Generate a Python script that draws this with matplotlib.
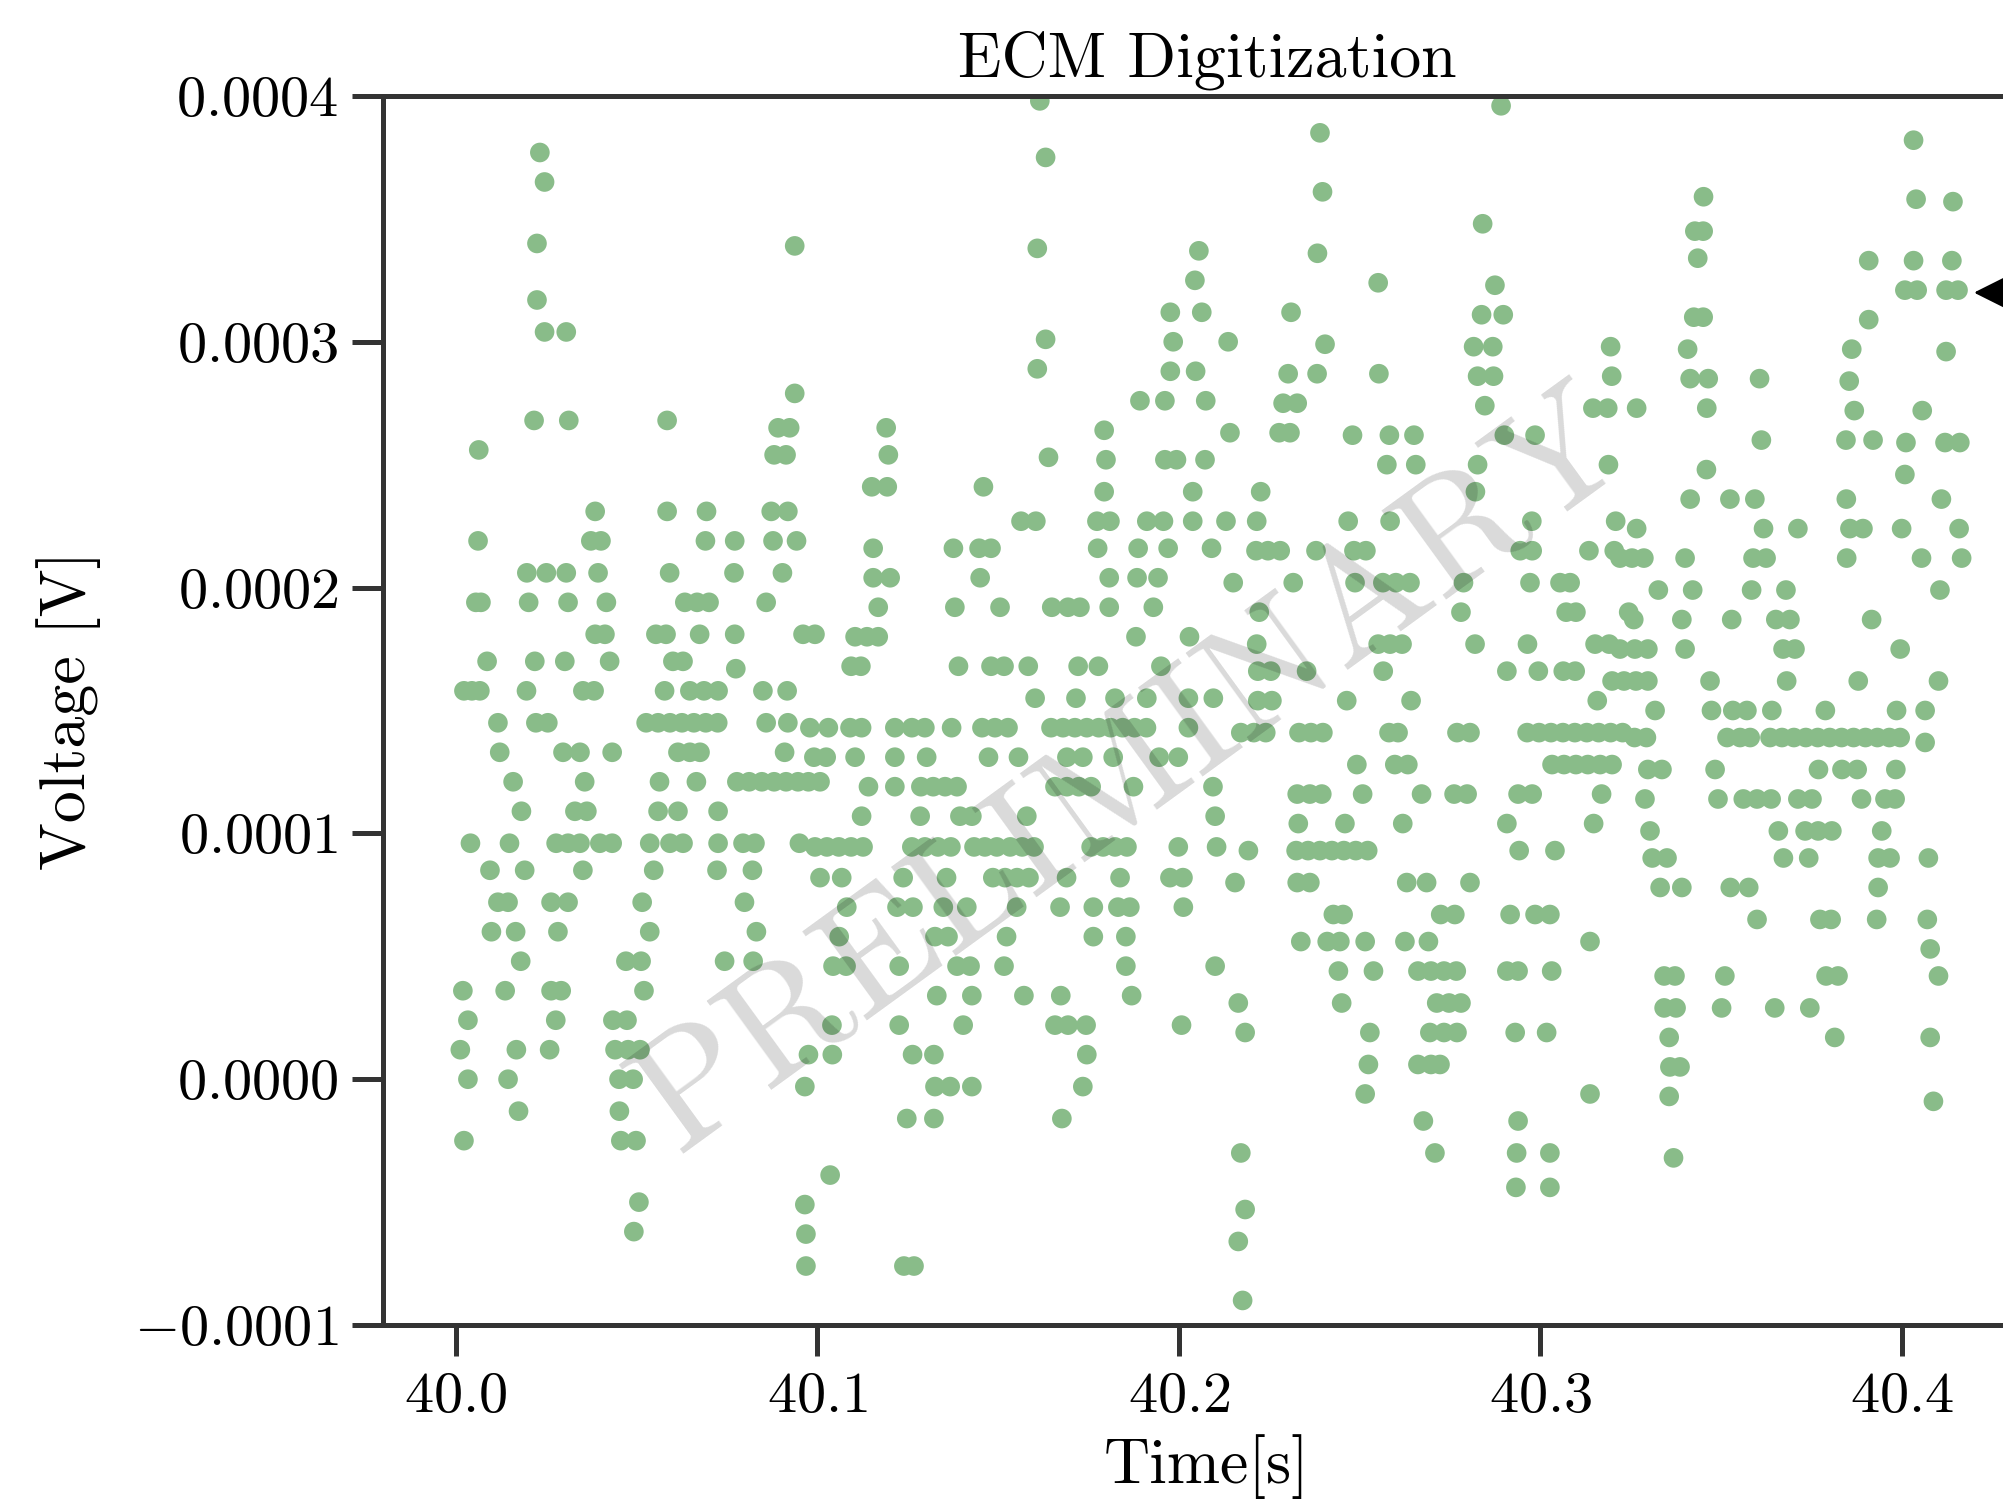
import matplotlib
matplotlib.use('Agg')
import matplotlib.pyplot as plt
from matplotlib.ticker import FuncFormatter

# digitized ECM samples
# each row: (voltage level in units of 1e-4 V, sample times in s at that level)
rows_a = [
    (3.77, [40.0232]),
    (3.65, [40.0245]),
    (3.40, [40.0224]),
    (3.39, [40.0937]),
    (3.17, [40.0224]),
    (3.04, [40.0245, 40.0305]),
    (2.79, [40.0937]),
    (2.68, [40.0216, 40.0312, 40.0584]),
    (2.65, [40.0891, 40.0923]),
    (2.56, [40.0063]),
    (2.54, [40.0880, 40.0913]),
    (2.31, [40.0385, 40.0584, 40.0693, 40.0872, 40.0918]),
    (2.19, [40.0061, 40.0373, 40.0401, 40.0690, 40.0771, 40.0877, 40.0942]),
    (2.06, [40.0196, 40.0250, 40.0305, 40.0393, 40.0591, 40.0769, 40.0903]),
    (1.94, [40.0055, 40.0069, 40.0201, 40.0310, 40.0416, 40.0633, 40.0667, 40.0700, 40.0858]),
    (1.81, [40.0385, 40.0412, 40.0553, 40.0581, 40.0674, 40.0771, 40.0960, 40.0993]),
    (1.70, [40.0086, 40.0218, 40.0301, 40.0425, 40.0600, 40.0628]),
    (1.67, [40.0774]),
    (1.58, [40.0022, 40.0044, 40.0066, 40.0195, 40.0351, 40.0382, 40.0577, 40.0647,
            40.0686, 40.0725, 40.0849, 40.0916]),
    (1.45, [40.0116, 40.0221, 40.0254, 40.0526, 40.0559, 40.0592, 40.0625, 40.0658,
            40.0691, 40.0724, 40.0858, 40.0918]),
    (1.33, [40.0121, 40.0296, 40.0343, 40.0432, 40.0614, 40.0647, 40.0675, 40.0909]),
    (1.21, [40.0158, 40.0356, 40.0563, 40.0665, 40.0777, 40.0811, 40.0846, 40.0880,
            40.0913, 40.0946, 40.0975, 40.1007]),
    (1.09, [40.0181, 40.0329, 40.0362, 40.0559, 40.0614, 40.0725]),
    (0.96, [40.0040, 40.0148, 40.0277, 40.0310, 40.0343, 40.0398, 40.0432, 40.0536,
            40.0592, 40.0628, 40.0725, 40.0794, 40.0827, 40.0950]),
    (0.85, [40.0094, 40.0190, 40.0351, 40.0547, 40.0722, 40.0820]),
    (0.72, [40.0116, 40.0144, 40.0263, 40.0310, 40.0515, 40.0798]),
    (0.60, [40.0098, 40.0165, 40.0282, 40.0536, 40.0831]),
    (0.48, [40.0179, 40.0470, 40.0512, 40.0743, 40.0822]),
    (0.36, [40.0019, 40.0136, 40.0263, 40.0291, 40.0520]),
    (0.24, [40.0033, 40.0276, 40.0434, 40.0473]),
    (0.12, [40.0012, 40.0167, 40.0259, 40.0440, 40.0476, 40.0509]),
    (0.00, [40.0033, 40.0144, 40.0451, 40.0490]),
    (-0.13, [40.0173, 40.0452]),
    (-0.25, [40.0022, 40.0456, 40.0498]),
    (-0.50, [40.0506]),
    (-0.62, [40.0492]),
]

rows_b = [
    (3.98, [40.1615]),
    (3.75, [40.1631]),
    (3.38, [40.1608]),
    (3.37, [40.2055]),
    (3.25, [40.2044]),
    (3.12, [40.1976, 40.2063]),
    (3.01, [40.1631]),
    (3.00, [40.1984]),
    (2.89, [40.1608]),
    (2.88, [40.1976, 40.2046]),
    (2.76, [40.1892, 40.1961, 40.2074]),
    (2.65, [40.1190]),
    (2.64, [40.1793]),
    (2.54, [40.1196]),
    (2.53, [40.1639]),
    (2.52, [40.1798, 40.1961, 40.1993, 40.2072]),
    (2.41, [40.1150, 40.1193, 40.1459]),
    (2.39, [40.1793, 40.2038]),
    (2.27, [40.1563, 40.1604, 40.1773, 40.1809, 40.1911, 40.1957, 40.2038]),
    (2.16, [40.1154, 40.1376, 40.1447, 40.1480, 40.1775, 40.1887, 40.1970, 40.2090]),
    (2.04, [40.1154, 40.1201, 40.1450, 40.1807, 40.1884, 40.1942]),
    (1.92, [40.1168, 40.1380, 40.1505, 40.1648, 40.1693, 40.1726, 40.1807, 40.1929]),
    (1.80, [40.1104, 40.1137, 40.1168, 40.1881, 40.2029]),
    (1.68, [40.1093, 40.1120, 40.1390, 40.1480, 40.1516, 40.1583, 40.1721, 40.1777, 40.1950]),
    (1.55, [40.1602, 40.1715, 40.1823, 40.1911, 40.2026, 40.2095]),
    (1.43, [40.0979, 40.1030, 40.1090, 40.1122, 40.1214, 40.1261, 40.1297, 40.1371,
            40.1455, 40.1491, 40.1527, 40.1646, 40.1679, 40.1712, 40.1745, 40.1778,
            40.1811, 40.1844, 40.1877, 40.1910, 40.2026]),
    (1.31, [40.0990, 40.1024, 40.1104, 40.1214, 40.1302, 40.1473, 40.1556, 40.1690,
            40.1734, 40.1818, 40.1945, 40.1998]),
    (1.19, [40.1141, 40.1214, 40.1286, 40.1320, 40.1353, 40.1386, 40.1657, 40.1690,
            40.1723, 40.1757, 40.1874, 40.2094]),
    (1.07, [40.1122, 40.1284, 40.1394, 40.1427, 40.1579, 40.2100]),
    (0.945, [40.0993, 40.1026, 40.1059, 40.1093, 40.1126, 40.1261, 40.1297, 40.1333,
             40.1369, 40.1433, 40.1463, 40.1496, 40.1533, 40.1566, 40.1599, 40.1757,
             40.1790, 40.1823, 40.1856, 40.1998, 40.2104]),
    (0.82, [40.1007, 40.1067, 40.1237, 40.1357, 40.1485, 40.1519, 40.1552, 40.1585,
            40.1689, 40.1837, 40.1975, 40.2011]),
    (0.70, [40.1081, 40.1220, 40.1264, 40.1348, 40.1413, 40.1551, 40.1671, 40.1763,
            40.1831, 40.1864, 40.2012]),
    (0.58, [40.1060, 40.1325, 40.1361, 40.1523, 40.1763, 40.1853]),
    (0.46, [40.1043, 40.1079, 40.1226, 40.1386, 40.1422, 40.1516, 40.1853, 40.2100]),
    (0.34, [40.1330, 40.1427, 40.1571, 40.1673, 40.1869]),
    (0.22, [40.1040, 40.1226, 40.1403, 40.1657, 40.1693, 40.1743, 40.2007]),
    (0.10, [40.0975, 40.1041, 40.1263, 40.1322, 40.1745]),
    (-0.03, [40.0965, 40.1325, 40.1367, 40.1427, 40.1734]),
    (-0.16, [40.1247, 40.1322, 40.1676]),
    (-0.39, [40.1035]),
    (-0.51, [40.0965]),
    (-0.63, [40.0968]),
    (-0.76, [40.0968, 40.1239, 40.1267]),
]

rows_c = [
    (3.96, [40.2891]),
    (3.85, [40.2390]),
    (3.61, [40.2397]),
    (3.48, [40.2840]),
    (3.36, [40.2383]),
    (3.24, [40.2551]),
    (3.23, [40.2874]),
    (3.12, [40.2310]),
    (3.11, [40.2837, 40.2897]),
    (3.00, [40.2136]),
    (2.99, [40.2404]),
    (2.98, [40.2815, 40.2868, 40.3194]),
    (2.87, [40.2302, 40.2382, 40.2553]),
    (2.86, [40.2826, 40.2870, 40.3197]),
    (2.75, [40.2288, 40.2327]),
    (2.74, [40.2846]),
    (2.73, [40.3145, 40.3186]),
    (2.63, [40.2141, 40.2277, 40.2307]),
    (2.62, [40.2480, 40.2582, 40.2650, 40.2900, 40.2985]),
    (2.50, [40.2575, 40.2655, 40.2826, 40.3188]),
    (2.39, [40.2226, 40.2820]),
    (2.27, [40.2130, 40.2215, 40.2468, 40.2584, 40.2976, 40.3208]),
    (2.15, [40.2213, 40.2246, 40.2280, 40.2379, 40.2484, 40.2517, 40.2944, 40.2977,
            40.3134, 40.3204]),
    (2.02, [40.2150, 40.2316, 40.2487, 40.2564, 40.2600, 40.2639, 40.2787, 40.2971,
            40.3054, 40.3082]),
    (1.90, [40.2222, 40.2780, 40.3071, 40.3098, 40.3244]),
    (1.77, [40.2215, 40.2551, 40.2584, 40.2617, 40.2819, 40.2964, 40.3151, 40.3190]),
    (1.66, [40.2218, 40.2254, 40.2353, 40.2565, 40.2907, 40.2994, 40.3063, 40.3096]),
    (1.54, [40.2218, 40.2257, 40.2464, 40.2642, 40.3157]),
    (1.41, [40.2171, 40.2207, 40.2240, 40.2332, 40.2365, 40.2398, 40.2581, 40.2606,
            40.2769, 40.2805, 40.2963, 40.2996, 40.3029, 40.3062, 40.3095, 40.3128,
            40.3161, 40.3194, 40.3227]),
    (1.28, [40.2492, 40.2597, 40.2633, 40.3032, 40.3065, 40.3098, 40.3131, 40.3165, 40.3198]),
    (1.16, [40.2327, 40.2362, 40.2395, 40.2508, 40.2671, 40.2761, 40.2797, 40.2938,
            40.2977, 40.3169]),
    (1.04, [40.2330, 40.2459, 40.2619, 40.2907, 40.3147]),
    (0.93, [40.2192, 40.2324, 40.2357, 40.2390, 40.2423, 40.2456, 40.2489, 40.2522,
            40.2941, 40.3040]),
    (0.80, [40.2155, 40.2327, 40.2362, 40.2630, 40.2685, 40.2805]),
    (0.67, [40.2427, 40.2454, 40.2724, 40.2763, 40.2916, 40.2985, 40.3026]),
    (0.56, [40.2337, 40.2410, 40.2445, 40.2515, 40.2625, 40.2690, 40.3137]),
    (0.44, [40.2441, 40.2538, 40.2661, 40.2697, 40.2733, 40.2767, 40.2907, 40.2938, 40.3031]),
    (0.31, [40.2164, 40.2450, 40.2713, 40.2747, 40.2780]),
    (0.19, [40.2183, 40.2528, 40.2694, 40.2733, 40.2769, 40.2930, 40.3017]),
    (0.06, [40.2524, 40.2661, 40.2697, 40.2722]),
    (-0.06, [40.2515, 40.3137]),
    (-0.17, [40.2676, 40.2938]),
    (-0.30, [40.2171, 40.2708, 40.2934, 40.3026]),
    (-0.44, [40.2932, 40.3026]),
    (-0.53, [40.2183]),
    (-0.66, [40.2164]),
    (-0.90, [40.2176]),
]

rows_d = [
    (3.82, [40.4032]),
    (3.59, [40.3451]),
    (3.58, [40.4039]),
    (3.57, [40.4141]),
    (3.45, [40.3427, 40.3450]),
    (3.34, [40.3435]),
    (3.33, [40.3908, 40.4032, 40.4138]),
    (3.21, [40.4008, 40.4042, 40.4122, 40.4155]),
    (3.10, [40.3424, 40.3450]),
    (3.09, [40.3908]),
    (2.97, [40.3407, 40.3861]),
    (2.96, [40.4122]),
    (2.85, [40.3414, 40.3464, 40.3606]),
    (2.84, [40.3854]),
    (2.73, [40.3266, 40.3460]),
    (2.72, [40.3868, 40.4056]),
    (2.60, [40.3611, 40.3845, 40.3920]),
    (2.59, [40.4011, 40.4119, 40.4160]),
    (2.48, [40.3459]),
    (2.46, [40.4008]),
    (2.36, [40.3414, 40.3524, 40.3593, 40.3846, 40.4109]),
    (2.24, [40.3266, 40.3617, 40.3712, 40.3856, 40.3892, 40.3999, 40.4158]),
    (2.12, [40.3220, 40.3253, 40.3286, 40.3400, 40.3588, 40.3624, 40.3847, 40.4054, 40.4165]),
    (1.99, [40.3326, 40.3421, 40.3584, 40.3679, 40.4105]),
    (1.87, [40.3258, 40.3391, 40.3529, 40.3651, 40.3690, 40.3916]),
    (1.75, [40.3220, 40.3261, 40.3297, 40.3400, 40.3671, 40.3704, 40.3995]),
    (1.62, [40.3198, 40.3231, 40.3264, 40.3297, 40.3469, 40.3681, 40.3879, 40.4101]),
    (1.50, [40.3317, 40.3473, 40.3532, 40.3571, 40.3640, 40.3788, 40.3985, 40.4064]),
    (1.39, [40.3260, 40.3293, 40.3516, 40.3552, 40.3580, 40.3635, 40.3668, 40.3701,
            40.3734, 40.3767, 40.3800, 40.3833, 40.3866, 40.3899, 40.3932, 40.3965, 40.3995]),
    (1.37, [40.4064]),
    (1.26, [40.3297, 40.3336, 40.3483, 40.3769, 40.3834, 40.3876, 40.3983]),
    (1.14, [40.3289, 40.3491, 40.3561, 40.3599, 40.3638, 40.3712, 40.3751, 40.3888,
            40.3953, 40.3981]),
    (1.01, [40.3303, 40.3658, 40.3732, 40.3768, 40.3806, 40.3944]),
    (0.90, [40.3309, 40.3350, 40.3672, 40.3742, 40.3934, 40.3967, 40.4073]),
    (0.78, [40.3331, 40.3391, 40.3525, 40.3576, 40.3934]),
    (0.65, [40.3599, 40.3773, 40.3804, 40.3930, 40.4070]),
    (0.53, [40.4078]),
    (0.42, [40.3342, 40.3372, 40.3510, 40.3790, 40.3823, 40.4101]),
    (0.29, [40.3342, 40.3375, 40.3501, 40.3648, 40.3745]),
    (0.17, [40.3356, 40.3814, 40.4078]),
    (0.05, [40.3358, 40.3386]),
    (-0.07, [40.3356]),
    (-0.09, [40.4087]),
    (-0.32, [40.3368]),
]

x_ticks = [40.0, 40.1, 40.2, 40.3, 40.4]
y_ticks = [-0.0001, 0.0, 0.0001, 0.0002, 0.0003, 0.0004]
arrow_point = (40.4199, 3.20e-4)   # marker arrow at the right edge

# flatten rows into time / voltage lists
time_s, volt = [], []
for rows in (rows_a, rows_b, rows_c, rows_d):
    for level, times in rows:
        time_s += times
        volt += [level * 1e-4] * len(times)

plt.rcParams['font.family'] = 'serif'
plt.rcParams['font.serif'] = ['cmr10']
plt.rcParams['mathtext.fontset'] = 'cm'
plt.rcParams['axes.unicode_minus'] = False

fig = plt.figure(figsize=(10.015, 7.52), dpi=200, facecolor='white')
# right part of the axes falls outside the picture, as in the original screenshot
ax = fig.add_axes([0.1912, 0.1190, 0.8228, 0.8172])

ax.scatter(time_s, volt, s=50, color='#89bc89', edgecolors='none', zorder=2)

ax.set_xlim(39.9798, 40.4357)
ax.set_ylim(-0.0001, 0.0004)
ax.set_xticks(x_ticks)
ax.set_yticks(y_ticks)
ax.xaxis.set_major_formatter(FuncFormatter(lambda v, p: r'$%.1f$' % v))
ax.yaxis.set_major_formatter(
    FuncFormatter(lambda v, p: r'$%.4f$' % (0.0 if abs(v) < 1e-12 else v)))

for side in ax.spines.values():
    side.set_linewidth(1.8)
    side.set_color('#333333')
ax.tick_params(direction='out', length=11, width=1.8, color='#333333', labelsize=21)
ax.tick_params(axis='y', pad=5)
ax.tick_params(axis='x', pad=6)

ax.set_title('ECM Digitization', fontsize=23, pad=7)
ax.set_xlabel('Time[s]', fontsize=23, labelpad=4)
ax.set_ylabel('Voltage [V]', fontsize=23, labelpad=12)

# watermark
fig.text(0.5657, 0.486, 'PRELIMINARY', fontsize=58, rotation=36, color='black',
         alpha=0.15, ha='center', va='center', zorder=5)

ax.annotate('', xy=arrow_point, xytext=(40.47, arrow_point[1]),
            arrowprops=dict(arrowstyle='-|>,head_length=0.5,head_width=0.25',
                            color='black', mutation_scale=22, shrinkA=0, shrinkB=0),
            annotation_clip=False)

fig.savefig('out.png', dpi=200)
